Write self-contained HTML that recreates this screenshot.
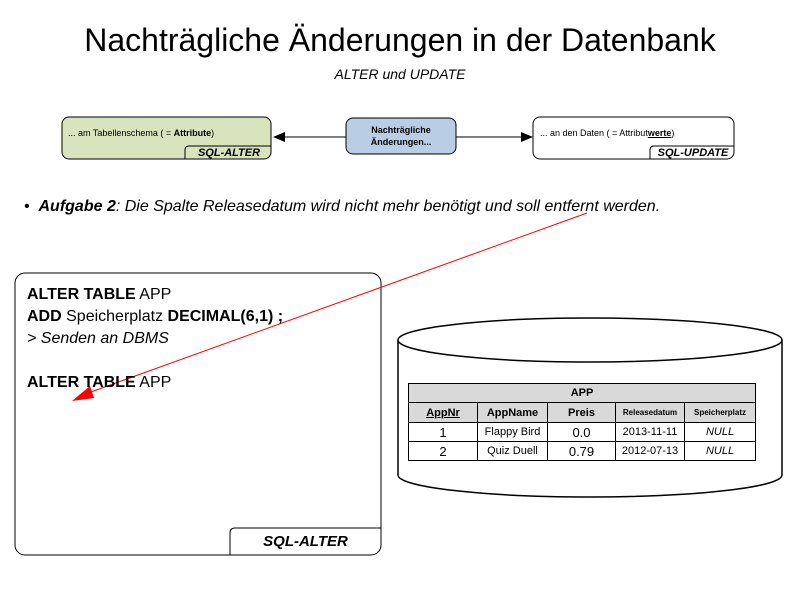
<!DOCTYPE html>
<html><head><meta charset="utf-8"><style>
body{margin:0;width:800px;height:600px;background:#fff;position:relative;overflow:hidden;font-family:"Liberation Sans",sans-serif}
.a{position:absolute}
td{padding:0;border:1px solid #000;overflow:hidden;white-space:nowrap}
</style></head><body>
<div class="a" style="left:0;width:800px;top:22px;text-align:center;font-size:32px;color:#000">Nachträgliche Änderungen in der Datenbank</div>
<div class="a" style="left:0;width:800px;top:66px;text-align:center;font-size:14px;font-style:italic">ALTER und UPDATE</div>
<svg class="a" style="left:0;top:0" width="800" height="600">
<rect x="62" y="117" width="209" height="42" rx="7" fill="#d7e4bd" stroke="#000"/>
<path d="M185 159 V150 Q185 146 189 146 H271" fill="none" stroke="#000"/>
<rect x="533" y="117" width="201" height="42" rx="7" fill="#fff" stroke="#000"/>
<path d="M650 159 V150 Q650 146 654 146 H734" fill="none" stroke="#000"/>
<rect x="346" y="118" width="110" height="36" rx="7" fill="#b9cde5" stroke="#000"/>
<line x1="346" y1="137" x2="284" y2="137" stroke="#000"/>
<polygon points="273,137 285,132 285,142" fill="#000"/>
<line x1="456" y1="137" x2="522" y2="137" stroke="#000"/>
<polygon points="533,137 521,132 521,142" fill="#000"/>
<rect x="15" y="273" width="366" height="282" rx="10" fill="#fff" stroke="#000"/>
<path d="M230 555 V533 Q230 528 235 528 H381" fill="none" stroke="#000"/>
<path d="M398 340 V475 A192 22 0 0 0 782 475 V340" fill="#fff" stroke="#000" stroke-width="1.5"/>
<ellipse cx="590" cy="340" rx="192" ry="22" fill="#fff" stroke="#000" stroke-width="1.5"/>
<line x1="587" y1="213" x2="88" y2="393" stroke="#f00"/>
<polygon points="72,401 90,386 94,398" fill="#f00"/>
</svg>
<div class="a" style="left:68px;top:128px;font-size:9px">... am Tabellenschema ( = <b>Attribute</b>)</div>
<div class="a" style="left:190px;top:147px;width:78px;text-align:center;font-size:11px;font-weight:bold;font-style:italic">SQL-ALTER</div>
<div class="a" style="left:540px;top:128px;font-size:9px">... an den Daten ( = Attribut<b style="text-decoration:underline">werte</b>)</div>
<div class="a" style="left:654px;top:147px;width:78px;text-align:center;font-size:11px;font-weight:bold;font-style:italic">SQL-UPDATE</div>
<div class="a" style="left:346px;top:124px;width:110px;text-align:center;font-size:9px;font-weight:bold;line-height:12px">Nachträgliche<br>Änderungen...</div>
<div class="a" style="left:24px;top:198px;font-size:16px;font-style:italic;white-space:nowrap">• &nbsp;<b>Aufgabe 2</b>: Die Spalte Releasedatum wird nicht mehr benötigt und soll entfernt werden.</div>
<div class="a" style="left:27px;top:284px;font-size:16px;line-height:22px"><b>ALTER TABLE</b> APP<br><b>ADD</b> Speicherplatz <b>DECIMAL(6,1) ;</b><br><i>&gt; Senden an DBMS</i><br><br><b>ALTER TABLE</b> APP</div>
<div class="a" style="left:230px;top:533px;width:151px;text-align:center;font-size:15px;font-weight:bold;font-style:italic">SQL-ALTER</div>
<table class="a" style="left:408px;top:383px;width:347px;table-layout:fixed;border-collapse:collapse;font-size:11px;text-align:center">
<colgroup><col style="width:69px"><col style="width:70px"><col style="width:68px"><col style="width:69px"><col style="width:71px"></colgroup>
<tr style="height:19px;background:#d9d9d9"><td colspan="5" style="font-weight:bold">APP</td></tr>
<tr style="height:20px;background:#d9d9d9;font-weight:bold"><td style="text-decoration:underline">AppNr</td><td>AppName</td><td>Preis</td><td style="font-size:8px">Releasedatum</td><td style="font-size:8px">Speicherplatz</td></tr>
<tr style="height:19px"><td style="font-size:13px">1</td><td>Flappy Bird</td><td style="font-size:13px">0.0</td><td>2013-11-11</td><td style="font-style:italic">NULL</td></tr>
<tr style="height:19px"><td style="font-size:13px">2</td><td>Quiz Duell</td><td style="font-size:13px">0.79</td><td>2012-07-13</td><td style="font-style:italic">NULL</td></tr>
</table>
</body></html>
